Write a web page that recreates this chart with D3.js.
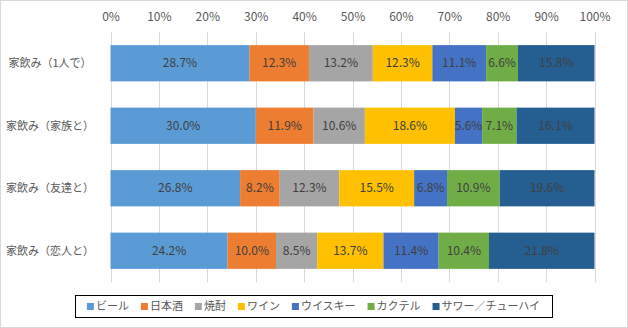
<!DOCTYPE html>
<html><head><meta charset="utf-8">
<script src="https://cdn.jsdelivr.net/npm/d3@7"></script>
<style>
html,body{margin:0;padding:0;background:#fff;}
text{font-family:"Noto Sans CJK JP","Noto Sans",sans-serif;}
</style></head>
<body><svg id="c" width="628" height="328"></svg>
<script>
const categories = ["家飲み（1人で）","家飲み（家族と）","家飲み（友達と）","家飲み（恋人と）"];
const seriesNames = ["ビール","日本酒","焼酎","ワイン","ウイスキー","カクテル","サワー／チューハイ"];
const beer    = [28.7, 30.0, 26.8, 24.2];
const sake    = [12.3, 11.9,  8.2, 10.0];
const shochu  = [13.2, 10.6, 12.3,  8.5];
const wine    = [12.3, 18.6, 15.5, 13.7];
const whisky  = [11.1,  5.6,  6.8, 11.4];
const cocktail= [ 6.6,  7.1, 10.9, 10.4];
const sour    = [15.8, 16.1, 19.6, 21.8];
const tickValues = [0,0.1,0.2,0.3,0.4,0.5,0.6,0.7,0.8,0.9,1.0];
const colors = ["#5B9BD5","#ED7D31","#A5A5A5","#FFC000","#4472C4","#70AD47","#255E91"];

const seriesVals = [beer,sake,shochu,wine,whisky,cocktail,sour];
const rows = categories.map((c,i)=>{
  const o={cat:c};
  seriesNames.forEach((s,j)=>o[s]=seriesVals[j][i]);
  return o;
});

const svg = d3.select("#c");
svg.append("rect").attr("x",0.5).attr("y",0.5).attr("width",627).attr("height",327)
  .attr("fill","#fff").attr("stroke","#D9D9D9");

const x = d3.scaleLinear().domain([0,1]).range([110.5,594.5]);
const y = d3.scaleBand().domain(categories).range([32,282]).paddingInner(0.42).paddingOuter(0.21);

// gridlines
svg.append("g").selectAll("line").data(tickValues).join("line")
  .attr("x1",d=>Math.round(x(d))+0.5).attr("x2",d=>Math.round(x(d))+0.5)
  .attr("y1",32).attr("y2",282).attr("stroke","#D9D9D9").attr("stroke-width",1);

// top axis
const ax = svg.append("g").attr("transform","translate(0,32)")
  .call(d3.axisTop(x).tickValues(tickValues).tickFormat(d3.format(".0%")).tickSize(0).tickPadding(11));
ax.select(".domain").remove();
ax.selectAll("text").attr("font-size",12).attr("fill","#595959")
  .style("font-family","'Noto Sans CJK JP','Noto Sans',sans-serif");

// category labels
svg.append("g").selectAll("text").data(categories).join("text")
  .attr("x",50).attr("y",d=>y(d)+y.bandwidth()/2).attr("dy","0.35em")
  .attr("text-anchor","middle").attr("font-size",11).attr("fill","#595959").text(d=>d);

const stack = d3.stack().keys(seriesNames).offset(d3.stackOffsetExpand);
const layers = stack(rows);

const g = svg.append("g");
layers.forEach((layer,j)=>{
  const lg = g.append("g");
  lg.selectAll("rect").data(layer).join("rect")
    .attr("x",d=>x(d[0])).attr("width",d=>x(d[1])-x(d[0]))
    .attr("y",d=>y(d.data.cat)).attr("height",y.bandwidth())
    .attr("fill",colors[j]);
  lg.selectAll("text").data(layer).join("text")
    .attr("x",d=>(x(d[0])+x(d[1]))/2).attr("y",d=>y(d.data.cat)+y.bandwidth()/2).attr("dy","0.35em")
    .attr("text-anchor","middle").attr("font-size",12).attr("fill","#404040")
    .text(d=>d.data[seriesNames[j]].toFixed(1)+"%");
});

// legend
const lgd = svg.append("g");
const box = lgd.append("rect").attr("fill","#fff").attr("stroke","#000").attr("stroke-width",1);
const items = [];
seriesNames.forEach((s,j)=>{
  const it = lgd.append("g");
  it.append("rect").attr("x",0).attr("y",-3.5).attr("width",7).attr("height",7).attr("fill",colors[j]);
  const t = it.append("text").attr("x",9).attr("y",0).attr("dy","0.35em").attr("font-size",11).attr("fill","#595959").text(s);
  const w = 9 + t.node().getComputedTextLength();
  items.push({it, w});
});
const gap = 12;
const total = d3.sum(items,d=>d.w) + gap*(items.length-1);
const centerX = 313.5, ly = 306.5;
let pos = centerX - total/2;
items.forEach(d=>{ d.it.attr("transform",`translate(${pos},${ly})`); pos += d.w + gap; });
box.attr("x",Math.round(centerX - total/2 - 12)+0.5).attr("y",295.5)
   .attr("width",Math.round(total+24)).attr("height",22);
</script></body></html>
